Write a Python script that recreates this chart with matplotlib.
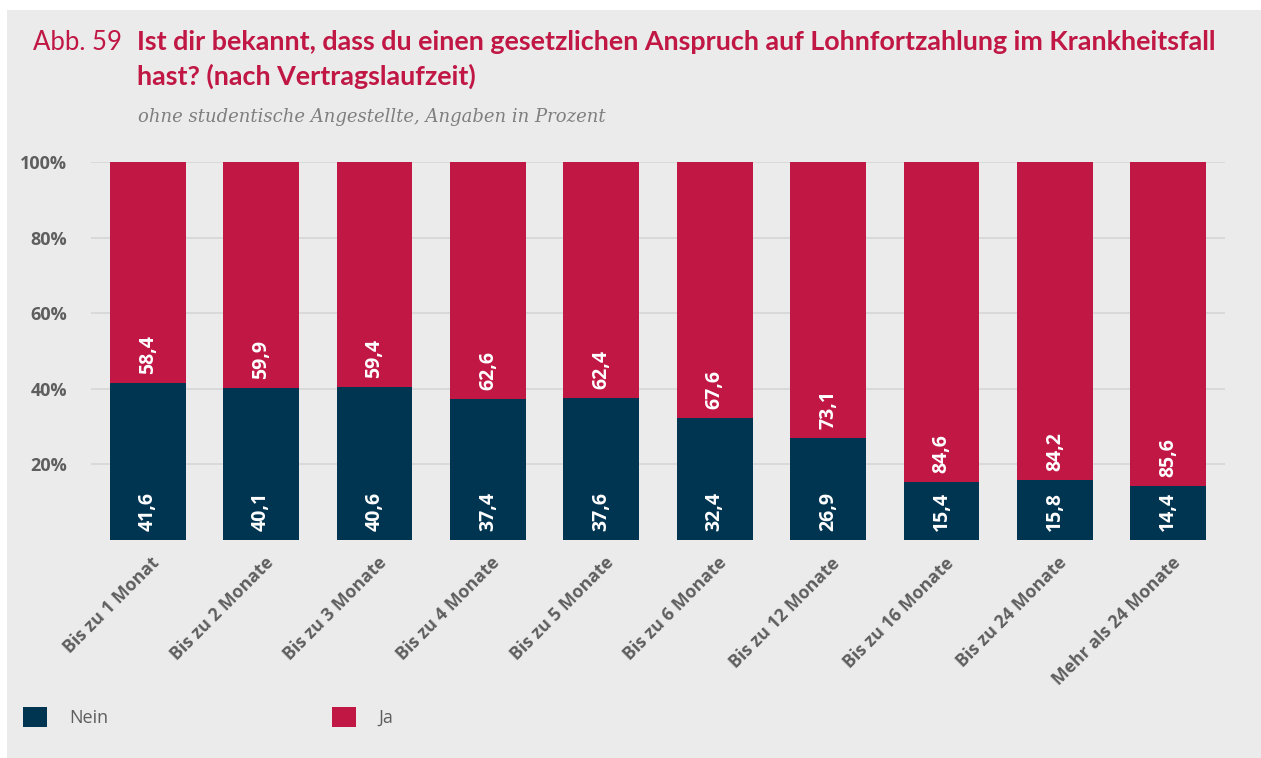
import matplotlib
matplotlib.use("Agg")
import matplotlib.pyplot as plt
from matplotlib.patches import Rectangle, Patch
from matplotlib import transforms

categories = ["Bis zu 1 Monat", "Bis zu 2 Monate", "Bis zu 3 Monate", "Bis zu 4 Monate",
              "Bis zu 5 Monate", "Bis zu 6 Monate", "Bis zu 12 Monate", "Bis zu 16 Monate",
              "Bis zu 24 Monate", "Mehr als 24 Monate"]
nein = [41.6, 40.1, 40.6, 37.4, 37.6, 32.4, 26.9, 15.4, 15.8, 14.4]
ja = [58.4, 59.9, 59.4, 62.6, 62.4, 67.6, 73.1, 84.6, 84.2, 85.6]
yticks = [20, 40, 60, 80, 100]

NAVY = "#003552"
RED = "#c01745"
BG = "#ebebeb"
GREY = "#5e5e5e"
W, H = 1261, 758

fig = plt.figure(figsize=(W / 100, H / 100), dpi=100)
fig.patch.set_facecolor("white")
fig.add_artist(Rectangle((7 / W, 0), 1, (H - 10) / H, transform=fig.transFigure,
                         facecolor=BG, edgecolor="none", zorder=-10))

ax = fig.add_axes([91 / W, 1 - 540 / H, (1225 - 91) / W, (540 - 162) / H])
ax.set_facecolor("none")

x = list(range(len(categories)))
ax.bar(x, nein, width=0.67, color=NAVY, zorder=3, label="Nein")
ax.bar(x, ja, width=0.67, bottom=nein, color=RED, zorder=3, label="Ja")

for y in yticks:
    ax.axhline(y, color="#d8d8d8", lw=1.3, zorder=1)

# white value labels, reading upward from the bottom of each segment
up = transforms.offset_copy(ax.transData, fig=fig, x=0, y=9, units="dots")
for i in x:
    ax.text(i, 0, f"{nein[i]:.1f}".replace(".", ","), transform=up, rotation=90,
            ha="center", va="bottom", color="white", fontsize=14,
            fontweight="bold", family="Open Sans", zorder=4)
    ax.text(i, nein[i], f"{ja[i]:.1f}".replace(".", ","), transform=up, rotation=90,
            ha="center", va="bottom", color="white", fontsize=14,
            fontweight="bold", family="Open Sans", zorder=4)

ax.set_xlim(-0.5, len(categories) - 0.5)
ax.set_ylim(0, 100)
for s in ax.spines.values():
    s.set_visible(False)

ax.set_yticks(yticks)
ax.set_yticklabels([f"{v}%" for v in yticks], fontsize=13, fontweight="bold",
                   color=GREY, family="Open Sans")
ax.tick_params(axis="y", length=0, pad=17)

ax.set_xticks([])
down = transforms.offset_copy(ax.transData, fig=fig, x=3, y=-14, units="dots")
for i, lab in enumerate(categories):
    ax.text(i, 0, lab, transform=down, rotation=45, rotation_mode="anchor",
            ha="right", va="top", fontsize=12.7, fontweight="bold", color=GREY,
            family="Open Sans")

# header
fig.text(33 / W, 1 - 50 / H, "Abb. 59", fontsize=18.5, fontweight="normal",
         color=RED, family="Lato", va="baseline")
fig.text(137 / W, 1 - 50 / H, "Ist dir bekannt, dass du einen gesetzlichen Anspruch auf Lohnfortzahlung im Krankheitsfall",
         fontsize=19.4, fontweight="bold", color=RED, family="Lato", va="baseline")
fig.text(137 / W, 1 - 85 / H, "hast? (nach Vertragslaufzeit)",
         fontsize=19.4, fontweight="bold", color=RED, family="Lato", va="baseline")
fig.text(138 / W, 1 - 117 / H, "ohne studentische Angestellte, Angaben in Prozent",
         fontsize=13, style="italic", color="#7f7f7f", family="DejaVu Serif", va="center")

handles = [Patch(facecolor=NAVY), Patch(facecolor=RED)]
fig.legend(handles, ["Nein", "Ja"], loc="center left",
           bbox_to_anchor=(23 / W, 1 - 717 / H), ncol=2, frameon=False,
           borderpad=0, borderaxespad=0, handlelength=1.35, handleheight=1.3,
           handletextpad=1.2, columnspacing=12.4,
           prop={"family": "Open Sans", "size": 13})
for t in fig.legends[0].get_texts():
    t.set_color(GREY)

fig.savefig("out.png", dpi=100, facecolor=fig.get_facecolor())
